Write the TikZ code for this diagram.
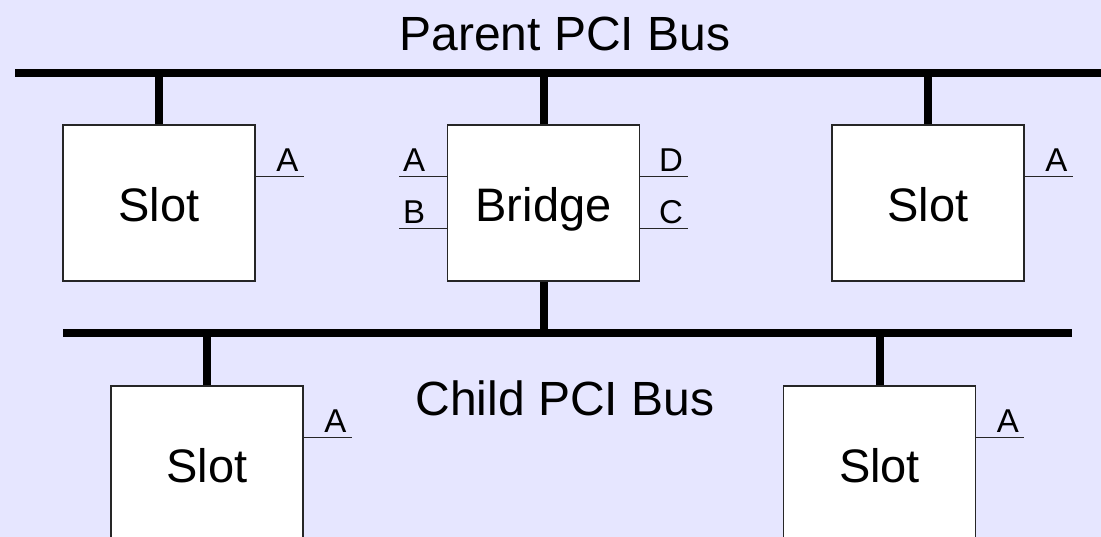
\documentclass[tikz,border=0pt]{standalone}
\usepackage{fontspec}
\setmainfont{Liberation Sans}
\definecolor{bg}{RGB}{230,230,255}
\begin{document}
\begin{tikzpicture}[x=1pt,y=-1pt,
  box/.style={draw=black!85, line width=1.2pt, fill=white, minimum width=192pt, minimum height=156pt, inner sep=0pt, text height=37pt, text depth=0pt, font=\fontsize{47}{56}\selectfont},
  bus/.style={line width=8pt, black},
  pin/.style={line width=1pt, black!85},
  pinlabel/.style={font=\fontsize{33}{40}\selectfont, inner sep=0pt},
  title/.style={font=\fontsize{48}{58}\selectfont, inner sep=0pt}]
\clip (0,0) rectangle (1101,537);
\fill[bg] (0,0) rectangle (1101,537);
% buses
\coordinate (pL) at (15,73);
\coordinate (pR) at (1110,73);
\coordinate (cL) at (63,333);
\coordinate (cR) at (1072,333);
\draw[bus] (pL) -- (pR);
\draw[bus] (cL) -- (cR);
% boxes
\node[box] (s1) at (159,203) {Slot};
\node[box] (br) at (543.5,203) {Bridge};
\node[box] (s2) at (928,203) {Slot};
\node[box] (s3) at (207,464) {Slot};
\node[box] (s4) at (879.5,464) {Slot};
% stems
\draw[bus] (s1.north) -- (s1.north |- pL);
\draw[bus] (br.north) -- (br.north |- pL);
\draw[bus] (s2.north) -- (s2.north |- pL);
\draw[bus] (br.south) -- (br.south |- cL);
\draw[bus] (s3.north) -- (s3.north |- cL);
\draw[bus] (s4.north) -- (s4.north |- cL);
% pins
\draw[pin] (s1.east) ++(0,-26) -- ++(48,0) coordinate (s1p);
\draw[pin] (s2.east) ++(0,-26) -- ++(48,0) coordinate (s2p);
\draw[pin] (s3.east) ++(0,-27) -- ++(48,0) coordinate (s3p);
\draw[pin] (s4.east) ++(0,-27) -- ++(48,0) coordinate (s4p);
\draw[pin] (br.east) ++(0,-26) -- ++(48,0) coordinate (brd);
\draw[pin] (br.east) ++(0,26) -- ++(48,0) coordinate (brc);
\draw[pin] (br.west) ++(0,-26) -- ++(-48,0) coordinate (bra);
\draw[pin] (br.west) ++(0,26) -- ++(-48,0) coordinate (brb);
\node[pinlabel, anchor=base east] at ([shift={(-5,-5)}]s1p) {A};
\node[pinlabel, anchor=base east] at ([shift={(-5,-5)}]s2p) {A};
\node[pinlabel, anchor=base east] at ([shift={(-5,-5)}]s3p) {A};
\node[pinlabel, anchor=base east] at ([shift={(-5,-5)}]s4p) {A};
\node[pinlabel, anchor=base east] at ([shift={(-5,-5)}]brd) {D};
\node[pinlabel, anchor=base east] at ([shift={(-5,-5)}]brc) {C};
\node[pinlabel, anchor=base west] at ([shift={(4,-5)}]bra) {A};
\node[pinlabel, anchor=base west] at ([shift={(4,-5)}]brb) {B};
% titles
\node[title, anchor=base] (pt) at (565,51) {Parent PCI Bus};
\node[title, anchor=base] (ct) at (565,415) {Child PCI Bus};
\end{tikzpicture}
\end{document}
